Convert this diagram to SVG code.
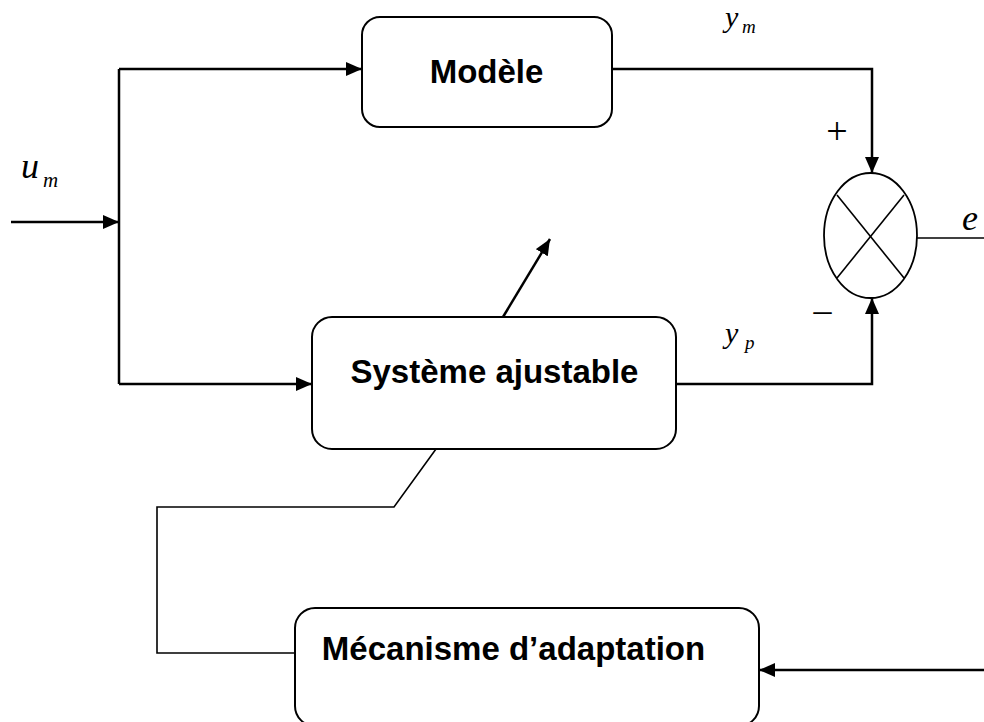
<svg xmlns="http://www.w3.org/2000/svg" width="984" height="722" viewBox="0 0 984 722">
<style>
.box{fill:#fff;stroke:#000;stroke-width:2}
.lbl{font-family:"Liberation Sans",Arial,sans-serif;font-weight:bold;font-size:33px;fill:#000;text-anchor:middle}
.conn{fill:none;stroke:#000;stroke-width:2.5}
.thin{fill:none;stroke:#000;stroke-width:1.6}
.math{font-family:"Liberation Serif","Times New Roman",serif;font-style:italic;fill:#000}
.sym{font-family:"Liberation Serif","Times New Roman",serif;fill:#000}
</style>
<defs>
<marker id="arr" markerUnits="userSpaceOnUse" markerWidth="18" markerHeight="16" refX="16" refY="7" orient="auto">
<path d="M0,0 L16,7 L0,14 z" fill="#000"/>
</marker>
</defs>
<rect width="984" height="722" fill="#fff"/>
<g id="connectors">
<line class="conn" x1="11" y1="222" x2="119" y2="222" marker-end="url(#arr)"/>
<polyline class="conn" points="119,69 119,384"/>
<line class="conn" x1="119" y1="69" x2="362" y2="69" marker-end="url(#arr)"/>
<line class="conn" x1="119" y1="384" x2="312" y2="384" marker-end="url(#arr)"/>
<polyline class="conn" points="612,69 872,69 872,173" marker-end="url(#arr)"/>
<polyline class="conn" points="676,384 872,384 872,298" marker-end="url(#arr)"/>
<line class="conn" x1="503" y1="317" x2="550" y2="239" marker-end="url(#arr)"/>
<polyline class="thin" points="436,449 394,507 157,507 157,653 295,653"/>
<line class="thin" x1="917" y1="238" x2="984" y2="238"/>
<line class="conn" x1="984" y1="670" x2="759" y2="670" marker-end="url(#arr)"/>
</g>
<g id="modele">
<rect class="box" x="362" y="17" width="250" height="110" rx="18"/>
<text class="lbl" x="486.5" y="83">Modèle</text>
</g>
<g id="systeme">
<rect class="box" x="312" y="317" width="364" height="132" rx="20"/>
<text class="lbl" x="494.5" y="383">Système ajustable</text>
</g>
<g id="mecanisme">
<rect class="box" x="295" y="608" width="464" height="118" rx="20"/>
<text class="lbl" x="513.5" y="660">Mécanisme d’adaptation</text>
</g>
<g id="comparateur">
<ellipse cx="870.5" cy="235.5" rx="46.5" ry="62.5" fill="#fff" stroke="#000" stroke-width="1.8"/>
<line class="thin" x1="837" y1="195" x2="904" y2="278"/>
<line class="thin" x1="904" y1="195" x2="837" y2="278"/>
</g>
<g id="labels">
<text class="math" x="21" y="178" font-size="36">u</text>
<text class="math" x="43" y="187" font-size="21">m</text>
<text class="math" x="725" y="27" font-size="30">y</text>
<text class="math" x="742" y="33" font-size="19">m</text>
<text class="math" x="725" y="343" font-size="30">y</text>
<text class="math" x="745" y="349" font-size="19">p</text>
<text class="math" x="962" y="230" font-size="36">e</text>
<text class="sym" x="837" y="144" font-size="38" text-anchor="middle">+</text>
<text class="sym" x="822.5" y="322" font-size="36" text-anchor="middle">–</text>
</g>
</svg>
